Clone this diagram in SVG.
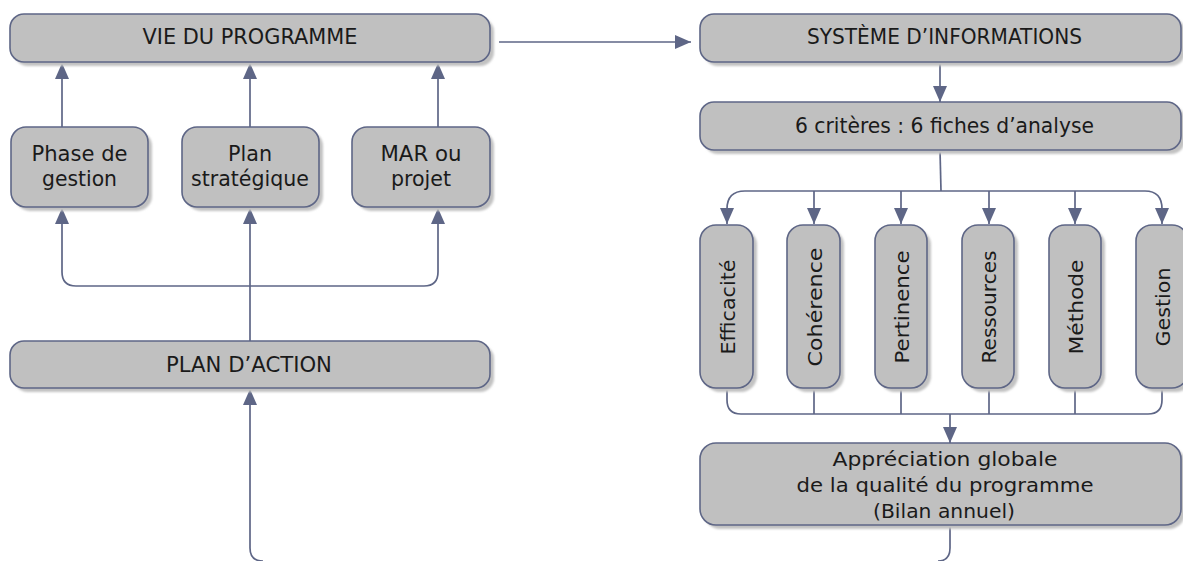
<svg xmlns="http://www.w3.org/2000/svg" width="1183" height="561" viewBox="0 0 1183 561">
<style>
.box{fill:#c0c0c0;stroke:#5e6686;stroke-width:1.6}
.sh{fill:#c2c2c2;filter:url(#blur)}
.ln{fill:none;stroke:#5e6686;stroke-width:1.7}
.arr{marker-end:url(#ah)}
text{font-family:"DejaVu Sans","Liberation Sans",sans-serif;fill:#1a1a1a;text-anchor:middle}
.t1{font-size:21px}
.t2{font-size:19px}
.tv{font-size:20px}
</style>
<defs>
<filter id="blur" x="-10%" y="-10%" width="120%" height="120%"><feGaussianBlur stdDeviation="0.8"/></filter>
<marker id="ah" markerUnits="userSpaceOnUse" markerWidth="16" markerHeight="14" refX="16" refY="7" orient="auto"><path d="M0,0 L16,7 L0,14 z" fill="#5e6686"/></marker>
</defs>
<rect width="1183" height="561" fill="#ffffff"/>

<g id="connectors">
<path class="ln arr" d="M62 127 L62 63"/>
<path class="ln arr" d="M250 127 L250 63"/>
<path class="ln arr" d="M438 127 L438 63"/>
<path class="ln arr" d="M250 286 L250 208"/>
<path class="ln arr" d="M250 286 L76 286 Q62 286 62 272 L62 208"/>
<path class="ln arr" d="M250 286 L424 286 Q438 286 438 272 L438 208"/>
<path class="ln" d="M250 341 L250 286"/>
<path class="ln arr" d="M263 561 Q250 561 250 548 L250 389"/>
<path class="ln arr" d="M499 42 L691 42"/>
<path class="ln arr" d="M940 62 L940 102"/>
<path class="ln" d="M940 150 L941 191"/>
<path class="ln" d="M745 191 L1145 191"/>
<path class="ln arr" d="M745 191 Q727 191 727 209 L727 224"/>
<path class="ln arr" d="M814 191 L814 224"/>
<path class="ln arr" d="M901 191 L901 224"/>
<path class="ln arr" d="M989 191 L989 224"/>
<path class="ln arr" d="M1075 191 L1075 224"/>
<path class="ln arr" d="M1145 191 Q1162 191 1162 209 L1162 224"/>
<path class="ln" d="M727 388 L727 400 Q727 414 741 414 L1148 414 Q1162 414 1162 400 L1162 388"/>
<path class="ln" d="M814 388 L814 414"/>
<path class="ln" d="M901 388 L901 414"/>
<path class="ln" d="M989 388 L989 414"/>
<path class="ln" d="M1075 388 L1075 414"/>
<path class="ln arr" d="M950 414 L950 443"/>
<path class="ln" d="M950 525 L950 548 Q950 561 938 561"/>
</g>

<g id="vie">
<rect class="sh" x="14" y="18" width="480" height="48" rx="14"/>
<rect class="box" x="10" y="14" width="480" height="48" rx="14"/>
<text class="t1" x="250" y="44" textLength="215" lengthAdjust="spacingAndGlyphs">VIE DU PROGRAMME</text>
</g>

<g id="phase">
<rect class="sh" x="15" y="131" width="137" height="80" rx="15"/>
<rect class="box" x="11" y="127" width="137" height="80" rx="15"/>
<text class="t1" x="79.5" y="161" textLength="96" lengthAdjust="spacingAndGlyphs">Phase de</text>
<text class="t1" x="79.5" y="186" textLength="75" lengthAdjust="spacingAndGlyphs">gestion</text>
</g>

<g id="plan-strat">
<rect class="sh" x="186" y="131" width="137" height="80" rx="15"/>
<rect class="box" x="182" y="127" width="137" height="80" rx="15"/>
<text class="t1" x="250" y="161" textLength="44" lengthAdjust="spacingAndGlyphs">Plan</text>
<text class="t1" x="250" y="186" textLength="118" lengthAdjust="spacingAndGlyphs">stratégique</text>
</g>

<g id="mar">
<rect class="sh" x="356" y="131" width="138" height="80" rx="15"/>
<rect class="box" x="352" y="127" width="138" height="80" rx="15"/>
<text class="t1" x="421" y="161" textLength="81" lengthAdjust="spacingAndGlyphs">MAR ou</text>
<text class="t1" x="421" y="186" textLength="60" lengthAdjust="spacingAndGlyphs">projet</text>
</g>

<g id="plan-action">
<rect class="sh" x="14" y="345" width="480" height="47" rx="14"/>
<rect class="box" x="10" y="341" width="480" height="47" rx="14"/>
<text class="t1" x="249" y="372" textLength="166" lengthAdjust="spacingAndGlyphs">PLAN D’ACTION</text>
</g>

<g id="systeme">
<rect class="sh" x="704" y="18" width="481" height="48" rx="14"/>
<rect class="box" x="700" y="14" width="481" height="48" rx="14"/>
<text class="t1" x="944.5" y="44" textLength="275" lengthAdjust="spacingAndGlyphs">SYSTÈME D’INFORMATIONS</text>
</g>

<g id="criteres">
<rect class="sh" x="704" y="106" width="481" height="48" rx="14"/>
<rect class="box" x="700" y="102" width="481" height="48" rx="14"/>
<text class="t1" x="944.5" y="133" textLength="299" lengthAdjust="spacingAndGlyphs">6 critères : 6 fiches d’analyse</text>
</g>

<g id="efficacite">
<rect class="sh" x="704" y="229" width="53" height="163" rx="16"/>
<rect class="box" x="700" y="225" width="53" height="163" rx="16"/>
<text class="tv" transform="translate(734.5 307) rotate(-90)" textLength="95" lengthAdjust="spacingAndGlyphs">Efficacité</text>
</g>
<g id="coherence">
<rect class="sh" x="791" y="229" width="53" height="163" rx="16"/>
<rect class="box" x="787" y="225" width="53" height="163" rx="16"/>
<text class="tv" transform="translate(821.5 307) rotate(-90)" textLength="119" lengthAdjust="spacingAndGlyphs">Cohérence</text>
</g>
<g id="pertinence">
<rect class="sh" x="879" y="229" width="52" height="163" rx="16"/>
<rect class="box" x="875" y="225" width="52" height="163" rx="16"/>
<text class="tv" transform="translate(908.5 307) rotate(-90)" textLength="113" lengthAdjust="spacingAndGlyphs">Pertinence</text>
</g>
<g id="ressources">
<rect class="sh" x="966" y="229" width="52" height="163" rx="16"/>
<rect class="box" x="962" y="225" width="52" height="163" rx="16"/>
<text class="tv" transform="translate(995.5 307) rotate(-90)" textLength="113" lengthAdjust="spacingAndGlyphs">Ressources</text>
</g>
<g id="methode">
<rect class="sh" x="1053" y="229" width="52" height="163" rx="16"/>
<rect class="box" x="1049" y="225" width="52" height="163" rx="16"/>
<text class="tv" transform="translate(1082.5 307) rotate(-90)" textLength="95" lengthAdjust="spacingAndGlyphs">Méthode</text>
</g>
<g id="gestion">
<rect class="sh" x="1140" y="229" width="52" height="163" rx="16"/>
<rect class="box" x="1136" y="225" width="52" height="163" rx="16"/>
<text class="tv" transform="translate(1169.5 307) rotate(-90)" textLength="79" lengthAdjust="spacingAndGlyphs">Gestion</text>
</g>

<g id="appreciation">
<rect class="sh" x="704" y="447" width="481" height="82" rx="16"/>
<rect class="box" x="700" y="443" width="481" height="82" rx="16"/>
<text class="t2" x="945" y="466" textLength="225" lengthAdjust="spacingAndGlyphs">Appréciation globale</text>
<text class="t2" x="945" y="492" textLength="297" lengthAdjust="spacingAndGlyphs">de la qualité du programme</text>
<text class="t2" x="944" y="518" textLength="142" lengthAdjust="spacingAndGlyphs">(Bilan annuel)</text>
</g>
</svg>
